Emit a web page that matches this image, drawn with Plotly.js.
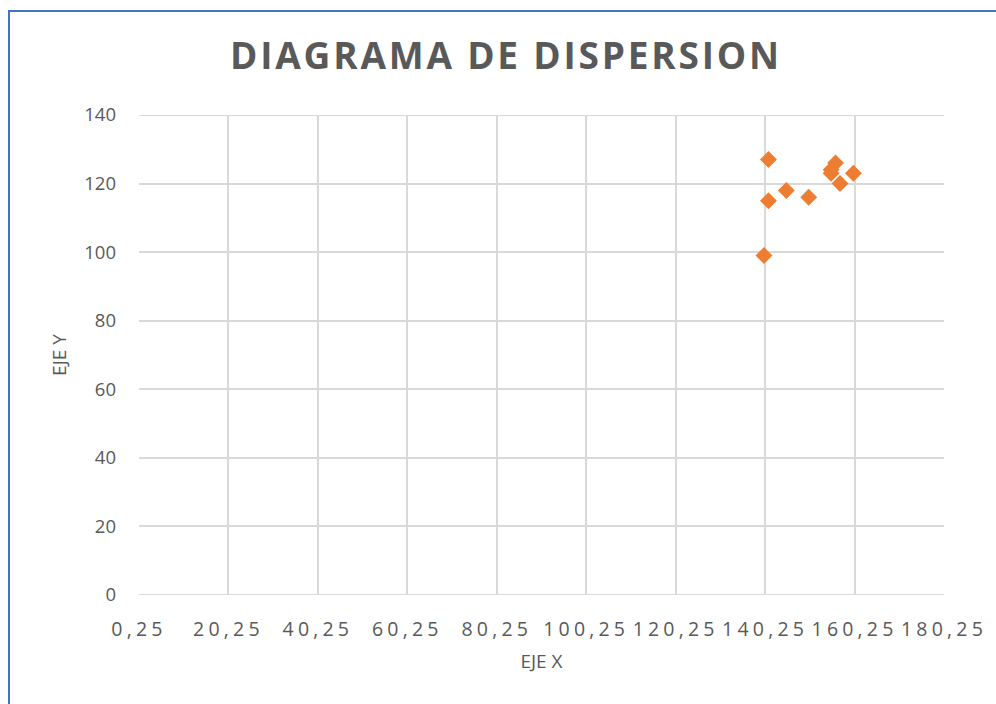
<!DOCTYPE html>
<html>
<head>
<meta charset="utf-8">
<script src="https://cdn.plot.ly/plotly-3.0.1.min.js"></script>
<style>
  html, body { margin: 0; padding: 0; background: #ffffff; }
  #wrap { position: relative; width: 996px; height: 704px; overflow: hidden; }
  #chart { position: absolute; left: 0; top: 0; width: 996px; height: 704px; }
  #frame { position: absolute; left: 8px; top: 10px; width: 1000px; height: 720px;
           border-top: 2px solid #4472C4; border-left: 2px solid #4472C4; pointer-events: none; }
  .xtick text { letter-spacing: 4.2px; }
  .gtitle { letter-spacing: 2.8px; }
</style>
</head>
<body>
<div id="wrap">
  <div id="chart"></div>
  <div id="frame"></div>
</div>
<script>
// Data
const xValues = [140, 141, 141, 145, 150, 155, 155, 156, 157, 160];
const yValues = [99, 127, 115, 118, 116, 123, 124, 126, 120, 123];

const xTickVals = [0.25, 20.25, 40.25, 60.25, 80.25, 100.25, 120.25, 140.25, 160.25, 180.25];
const xTickText = ["0,25", "20,25", "40,25", "60,25", "80,25", "100,25", "120,25", "140,25", "160,25", "180,25"];
const yTickVals = [0, 20, 40, 60, 80, 100, 120, 140];

const chartTitle = "DIAGRAMA DE DISPERSION";
const xTitle = "EJE X";
const yTitle = "EJE Y";

const gray = "#595959";
const gridColor = "#d9d9d9";
const font = "'Open Sans', 'Noto Sans', sans-serif";

const trace = {
  type: "scatter",
  mode: "markers",
  x: xValues,
  y: yValues,
  marker: { symbol: "diamond", size: 13, color: "#ED7D31", line: { width: 0 } },
  hoverinfo: "x+y"
};

const layout = {
  width: 996,
  height: 704,
  paper_bgcolor: "#ffffff",
  plot_bgcolor: "#ffffff",
  margin: { l: 139, r: 52, t: 115, b: 109, pad: 0 },
  showlegend: false,
  title: {
    text: chartTitle,
    font: { family: font, size: 37, color: gray, weight: 700 },
    x: 0.508, xanchor: "center",
    y: 0.920, yanchor: "middle"
  },
  xaxis: {
    range: [0.25, 180.25],
    tickmode: "array",
    tickvals: xTickVals,
    ticktext: xTickText,
    showgrid: true,
    gridcolor: gridColor,
    gridwidth: 2,
    zeroline: false,
    showline: false,
    ticks: "",
    ticklabelstandoff: 20,
    tickfont: { family: font, size: 19.5, color: gray },
    title: { text: xTitle, font: { family: font, size: 19, color: gray }, standoff: 14 },
    automargin: false,
    fixedrange: true
  },
  yaxis: {
    range: [0, 140],
    tickmode: "array",
    tickvals: yTickVals,
    showgrid: true,
    gridcolor: gridColor,
    gridwidth: 2,
    zeroline: false,
    showline: false,
    ticks: "",
    ticklabelstandoff: 22,
    tickfont: { family: font, size: 18.5, color: gray },
    title: { text: yTitle, font: { family: font, size: 19, color: gray }, standoff: 12 },
    automargin: false,
    fixedrange: true
  },
  shapes: [
    { type: "line", xref: "paper", yref: "y", x0: 0, x1: 1, y0: 0, y1: 0,
      line: { color: gridColor, width: 2 }, layer: "below" },
    { type: "line", xref: "paper", yref: "y", x0: 0, x1: 1, y0: 140, y1: 140,
      line: { color: gridColor, width: 2 }, layer: "below" }
  ]
};

Plotly.newPlot("chart", [trace], layout, { displayModeBar: false, staticPlot: true });
</script>
</body>
</html>
